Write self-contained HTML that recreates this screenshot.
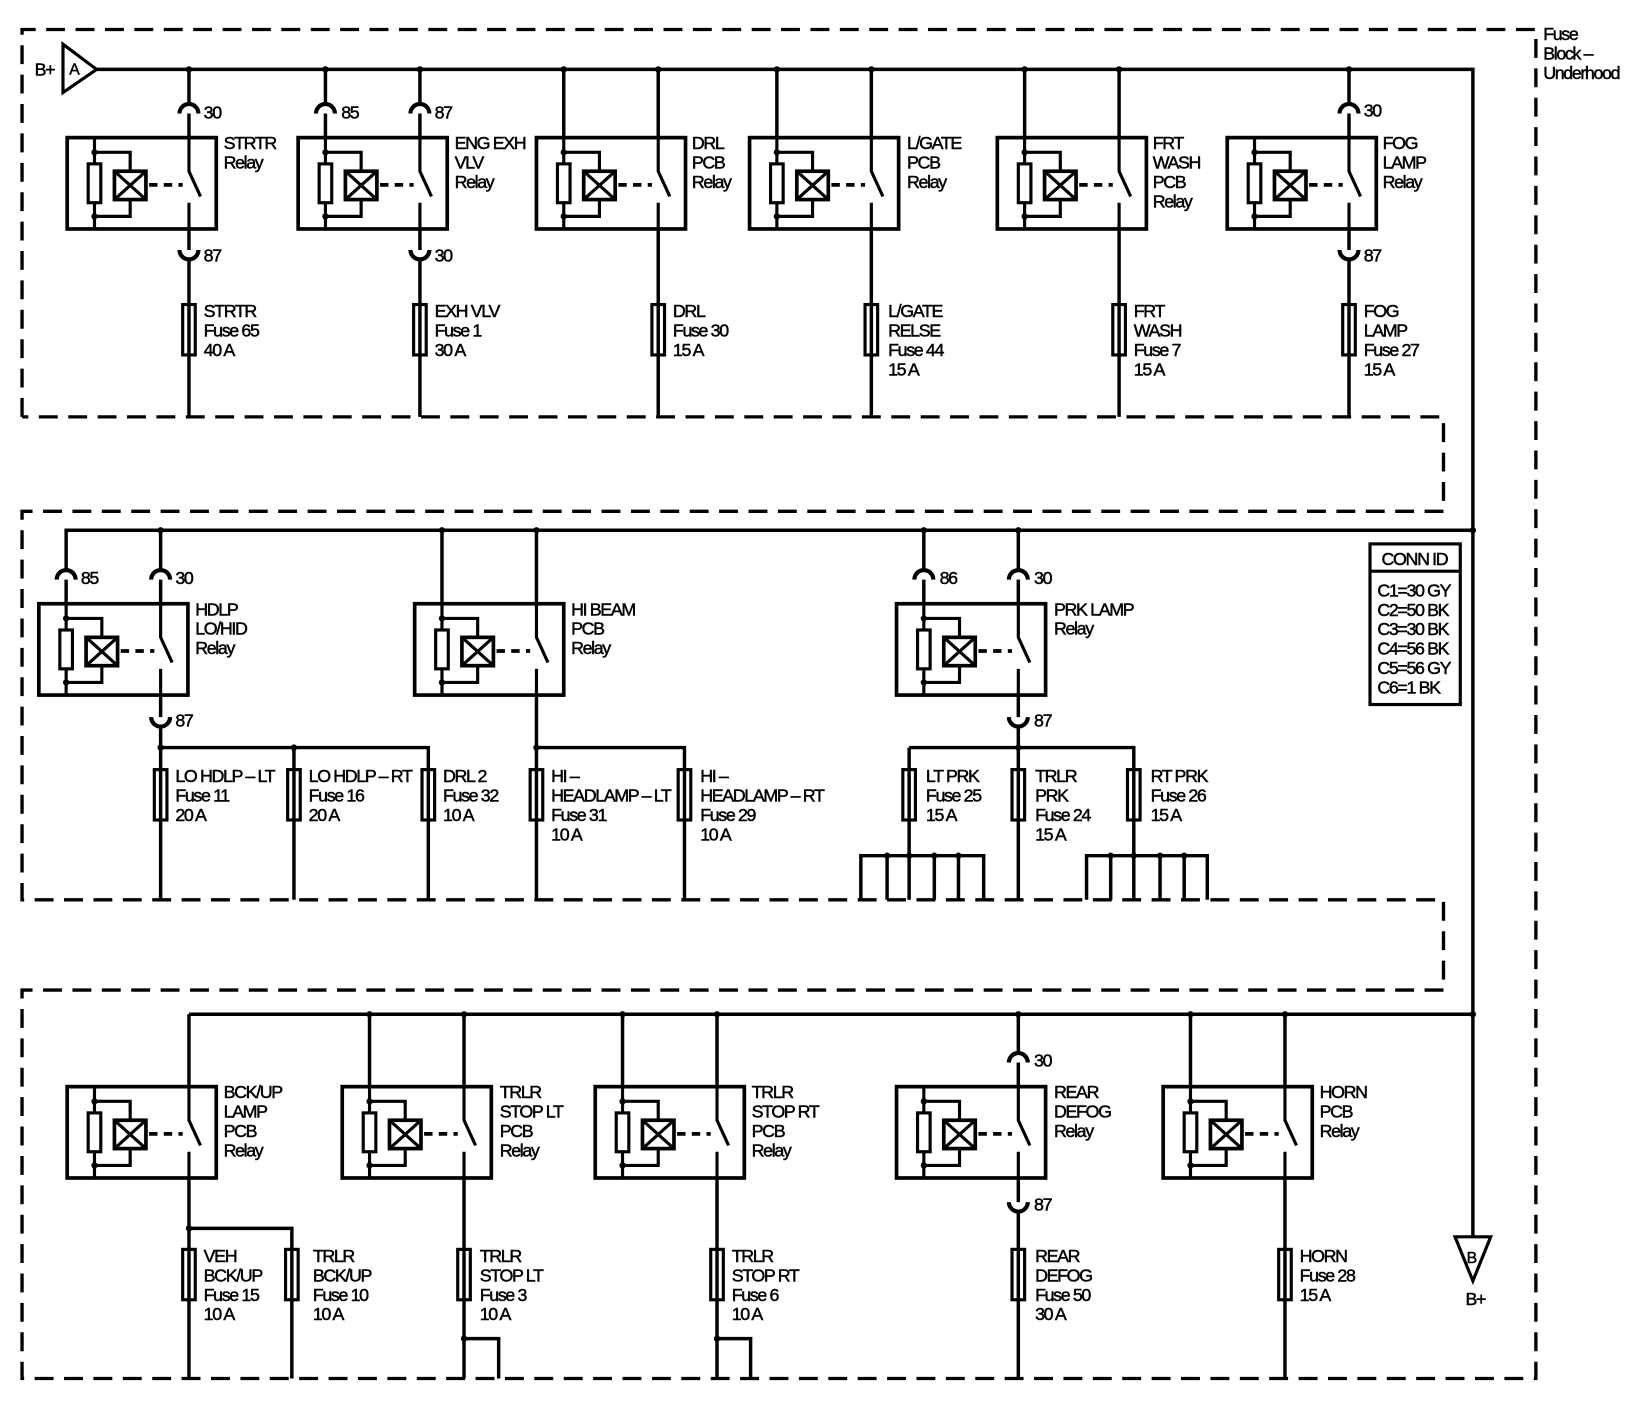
<!DOCTYPE html>
<html><head><meta charset="utf-8"><style>
html,body{margin:0;padding:0;background:#fff}
svg{display:block}
text{font-family:"Liberation Sans",sans-serif;font-size:17px;letter-spacing:-1.3px;fill:#000;stroke:#000;stroke-width:0.45px}
</style></head><body>
<svg width="1644" height="1408" viewBox="0 0 1566 1341" xmlns="http://www.w3.org/2000/svg">
<defs>
<g id="rl" fill="none" stroke="#000">
<rect x="0" y="0" width="142" height="87" stroke-width="3.5" fill="#fff"/>
<path d="M26 0V87M26 14H60V75H26" stroke-width="3"/>
<rect x="20" y="25" width="12" height="37" stroke-width="3" fill="#fff"/>
<rect x="45" y="32" width="30" height="27" stroke-width="3.5" fill="#fff"/>
<path d="M45 32L75 59M75 32L45 59" stroke-width="3"/>
<path d="M78 45H110" stroke-width="3.5" stroke-dasharray="8 6"/>
<path d="M116 0V32L127 56M116 62V87" stroke-width="3"/>
<circle cx="26" cy="14" r="3" fill="#000" stroke="none"/>
<circle cx="26" cy="75" r="3" fill="#000" stroke="none"/>
</g>
<rect id="fu" x="-6" y="0" width="12" height="48" fill="none" stroke="#000" stroke-width="3"/>
</defs>

<g fill="none" stroke="#000" stroke-width="3.2" stroke-dasharray="18 10">
<path d="M21 397V28H1463V1313H21V943H1375V857H21V487H1375V397H21"/>
</g>

<g fill="none" stroke="#000" stroke-width="3.3">
<path d="M92 66H1403V1178"/>
<path d="M180 66V99M180 108V131M180 218V238M180 247V397"/>
<path d="M310 66V99M310 108V131M400 66V99M400 108V131M400 218V238M400 247V397"/>
<path d="M537 66V131M627 66V131M627 218V397"/>
<path d="M740 66V131M830 66V131M830 218V397"/>
<path d="M976 66V131M1066 66V131M1066 218V397"/>
<path d="M1285 66V99M1285 108V131M1285 218V238M1285 247V397"/>
<path d="M1403 505H63V543M63 552V575M153 505V543M153 552V575M153 662V683M153 692V857M153 712H408V857M280 712V857"/>
<path d="M421 505V575M511 505V575M511 662V857M511 712H652V857"/>
<path d="M880 505V543M880 552V575M970 505V543M970 552V575M970 662V683M970 692V857M866 712H1080V857M866 712V857"/>
<path d="M820 857V815H937V857M845 815V857M890 815V857M913 815V857"/>
<path d="M1035 857V815H1150V857M1058 815V857M1105 815V857M1128 815V857"/>
<path d="M180 966H1403M180 966V1035M180 1122V1313M180 1170H278V1313"/>
<path d="M352 966V1035M442 966V1035M442 1122V1313M442 1275H475V1313"/>
<path d="M593 966V1035M683 966V1035M683 1122V1313M683 1275H715V1313"/>
<path d="M970 966V1003M970 1012V1035M970 1122V1145M970 1154V1313"/>
<path d="M1134 966V1035M1224 966V1035M1224 1122V1313"/>
</g>
<g fill="none" stroke="#000" stroke-width="4">
<path d="M171 108A9 9 0 0 1 189 108M171 238A9 9 0 0 0 189 238"/>
<path d="M301 108A9 9 0 0 1 319 108M391 108A9 9 0 0 1 409 108M391 238A9 9 0 0 0 409 238"/>
<path d="M1276 108A9 9 0 0 1 1294 108M1276 238A9 9 0 0 0 1294 238"/>
<path d="M54 552A9 9 0 0 1 72 552M144 552A9 9 0 0 1 162 552M144 683A9 9 0 0 0 162 683"/>
<path d="M871 552A9 9 0 0 1 889 552M961 552A9 9 0 0 1 979 552M961 683A9 9 0 0 0 979 683"/>
<path d="M961 1012A9 9 0 0 1 979 1012M961 1145A9 9 0 0 0 979 1145"/>
</g>
<use href="#rl" x="64" y="131"/><use href="#rl" x="284" y="131"/><use href="#rl" x="511" y="131"/>
<use href="#rl" x="714" y="131"/><use href="#rl" x="950" y="131"/><use href="#rl" x="1169" y="131"/>
<use href="#rl" x="37" y="575"/><use href="#rl" x="395" y="575"/><use href="#rl" x="854" y="575"/>
<use href="#rl" x="64" y="1035"/><use href="#rl" x="326" y="1035"/><use href="#rl" x="567" y="1035"/>
<use href="#rl" x="854" y="1035"/><use href="#rl" x="1108" y="1035"/>
<use href="#fu" x="180" y="290"/><use href="#fu" x="400" y="290"/><use href="#fu" x="627" y="290"/>
<use href="#fu" x="830" y="290"/><use href="#fu" x="1066" y="290"/><use href="#fu" x="1285" y="290"/>
<use href="#fu" x="153" y="733"/><use href="#fu" x="280" y="733"/><use href="#fu" x="408" y="733"/>
<use href="#fu" x="511" y="733"/><use href="#fu" x="652" y="733"/>
<use href="#fu" x="866" y="733"/><use href="#fu" x="970" y="733"/><use href="#fu" x="1080" y="733"/>
<use href="#fu" x="180" y="1190"/><use href="#fu" x="278" y="1190"/><use href="#fu" x="442" y="1190"/>
<use href="#fu" x="683" y="1190"/><use href="#fu" x="970" y="1190"/><use href="#fu" x="1224" y="1190"/>
<g fill="#000">
<circle cx="180" cy="66" r="3"/><circle cx="310" cy="66" r="3"/><circle cx="400" cy="66" r="3"/>
<circle cx="537" cy="66" r="3"/><circle cx="627" cy="66" r="3"/><circle cx="740" cy="66" r="3"/>
<circle cx="830" cy="66" r="3"/><circle cx="976" cy="66" r="3"/><circle cx="1066" cy="66" r="3"/>
<circle cx="1285" cy="66" r="3"/>
<circle cx="1403" cy="505" r="3"/><circle cx="153" cy="505" r="3"/><circle cx="421" cy="505" r="3"/>
<circle cx="511" cy="505" r="3"/><circle cx="880" cy="505" r="3"/><circle cx="970" cy="505" r="3"/>
<circle cx="153" cy="712" r="3"/><circle cx="280" cy="712" r="3"/><circle cx="511" cy="712" r="3"/><circle cx="970" cy="712" r="3"/>
<circle cx="845" cy="815" r="3"/><circle cx="866" cy="815" r="3"/><circle cx="890" cy="815" r="3"/><circle cx="913" cy="815" r="3"/>
<circle cx="1058" cy="815" r="3"/><circle cx="1080" cy="815" r="3"/><circle cx="1105" cy="815" r="3"/><circle cx="1128" cy="815" r="3"/>
<circle cx="352" cy="966" r="3"/><circle cx="442" cy="966" r="3"/><circle cx="593" cy="966" r="3"/>
<circle cx="683" cy="966" r="3"/><circle cx="970" cy="966" r="3"/><circle cx="1134" cy="966" r="3"/>
<circle cx="1224" cy="966" r="3"/><circle cx="1403" cy="966" r="3"/>
<circle cx="180" cy="1170" r="3"/><circle cx="442" cy="1275" r="3"/><circle cx="683" cy="1275" r="3"/>
</g>
<path d="M60 42V88L92 66Z" fill="#fff" stroke="#000" stroke-width="3"/>
<path d="M1386 1178H1420L1403 1220Z" fill="#fff" stroke="#000" stroke-width="3"/>
<rect x="1305" y="518" width="86" height="153" fill="none" stroke="#000" stroke-width="3"/>
<path d="M1305 544H1391" stroke="#000" stroke-width="3"/>

<text x="33" y="72">B+</text><text x="66" y="71" style="font-size:15px">A</text>
<text x="1397" y="1203" style="font-size:15px">B</text><text x="1396" y="1243">B+</text>
<text x="1470" y="38"><tspan>Fuse</tspan><tspan x="1470" dy="18.5">Block –</tspan><tspan x="1470" dy="18.5">Underhood</tspan></text>

<text x="194" y="113">30</text><text x="194" y="249">87</text>
<text x="325" y="113">85</text><text x="414" y="113">87</text><text x="414" y="249">30</text>
<text x="1299" y="111">30</text><text x="1299" y="249">87</text>
<text x="77" y="556">85</text><text x="167" y="556">30</text><text x="167" y="692">87</text>
<text x="895" y="556">86</text><text x="985" y="556">30</text><text x="985" y="692">87</text>
<text x="985" y="1016">30</text><text x="985" y="1153">87</text>

<text x="213" y="142"><tspan>STRTR</tspan><tspan x="213" dy="18.5">Relay</tspan></text>
<text x="433" y="142"><tspan>ENG EXH</tspan><tspan x="433" dy="18.5">VLV</tspan><tspan x="433" dy="18.5">Relay</tspan></text>
<text x="659" y="142"><tspan>DRL</tspan><tspan x="659" dy="18.5">PCB</tspan><tspan x="659" dy="18.5">Relay</tspan></text>
<text x="864" y="142"><tspan>L/GATE</tspan><tspan x="864" dy="18.5">PCB</tspan><tspan x="864" dy="18.5">Relay</tspan></text>
<text x="1098" y="142"><tspan>FRT</tspan><tspan x="1098" dy="18.5">WASH</tspan><tspan x="1098" dy="18.5">PCB</tspan><tspan x="1098" dy="18.5">Relay</tspan></text>
<text x="1317" y="142"><tspan>FOG</tspan><tspan x="1317" dy="18.5">LAMP</tspan><tspan x="1317" dy="18.5">Relay</tspan></text>

<text x="194" y="302"><tspan>STRTR</tspan><tspan x="194" dy="18.5">Fuse 65</tspan><tspan x="194" dy="18.5">40 A</tspan></text>
<text x="414" y="302"><tspan>EXH VLV</tspan><tspan x="414" dy="18.5">Fuse 1</tspan><tspan x="414" dy="18.5">30 A</tspan></text>
<text x="641" y="302"><tspan>DRL</tspan><tspan x="641" dy="18.5">Fuse 30</tspan><tspan x="641" dy="18.5">15 A</tspan></text>
<text x="846" y="302"><tspan>L/GATE</tspan><tspan x="846" dy="18.5">RELSE</tspan><tspan x="846" dy="18.5">Fuse 44</tspan><tspan x="846" dy="18.5">15 A</tspan></text>
<text x="1080" y="302"><tspan>FRT</tspan><tspan x="1080" dy="18.5">WASH</tspan><tspan x="1080" dy="18.5">Fuse 7</tspan><tspan x="1080" dy="18.5">15 A</tspan></text>
<text x="1299" y="302"><tspan>FOG</tspan><tspan x="1299" dy="18.5">LAMP</tspan><tspan x="1299" dy="18.5">Fuse 27</tspan><tspan x="1299" dy="18.5">15 A</tspan></text>

<text x="186" y="586"><tspan>HDLP</tspan><tspan x="186" dy="18.5">LO/HID</tspan><tspan x="186" dy="18.5">Relay</tspan></text>
<text x="544" y="586"><tspan>HI BEAM</tspan><tspan x="544" dy="18.5">PCB</tspan><tspan x="544" dy="18.5">Relay</tspan></text>
<text x="1004" y="586"><tspan>PRK LAMP</tspan><tspan x="1004" dy="18.5">Relay</tspan></text>

<text x="167" y="745"><tspan>LO HDLP – LT</tspan><tspan x="167" dy="18.5">Fuse 11</tspan><tspan x="167" dy="18.5">20 A</tspan></text>
<text x="294" y="745"><tspan>LO HDLP – RT</tspan><tspan x="294" dy="18.5">Fuse 16</tspan><tspan x="294" dy="18.5">20 A</tspan></text>
<text x="422" y="745"><tspan>DRL 2</tspan><tspan x="422" dy="18.5">Fuse 32</tspan><tspan x="422" dy="18.5">10 A</tspan></text>
<text x="525" y="745"><tspan>HI –</tspan><tspan x="525" dy="18.5">HEADLAMP – LT</tspan><tspan x="525" dy="18.5">Fuse 31</tspan><tspan x="525" dy="18.5">10 A</tspan></text>
<text x="667" y="745"><tspan>HI –</tspan><tspan x="667" dy="18.5">HEADLAMP – RT</tspan><tspan x="667" dy="18.5">Fuse 29</tspan><tspan x="667" dy="18.5">10 A</tspan></text>
<text x="882" y="745"><tspan>LT PRK</tspan><tspan x="882" dy="18.5">Fuse 25</tspan><tspan x="882" dy="18.5">15 A</tspan></text>
<text x="986" y="745"><tspan>TRLR</tspan><tspan x="986" dy="18.5">PRK</tspan><tspan x="986" dy="18.5">Fuse 24</tspan><tspan x="986" dy="18.5">15 A</tspan></text>
<text x="1096" y="745"><tspan>RT PRK</tspan><tspan x="1096" dy="18.5">Fuse 26</tspan><tspan x="1096" dy="18.5">15 A</tspan></text>

<text x="1316" y="538">CONN ID</text>
<text x="1312" y="568"><tspan>C1=30 GY</tspan><tspan x="1312" dy="18.5">C2=50 BK</tspan><tspan x="1312" dy="18.5">C3=30 BK</tspan><tspan x="1312" dy="18.5">C4=56 BK</tspan><tspan x="1312" dy="18.5">C5=56 GY</tspan><tspan x="1312" dy="18.5">C6=1 BK</tspan></text>

<text x="213" y="1046"><tspan>BCK/UP</tspan><tspan x="213" dy="18.5">LAMP</tspan><tspan x="213" dy="18.5">PCB</tspan><tspan x="213" dy="18.5">Relay</tspan></text>
<text x="476" y="1046"><tspan>TRLR</tspan><tspan x="476" dy="18.5">STOP LT</tspan><tspan x="476" dy="18.5">PCB</tspan><tspan x="476" dy="18.5">Relay</tspan></text>
<text x="716" y="1046"><tspan>TRLR</tspan><tspan x="716" dy="18.5">STOP RT</tspan><tspan x="716" dy="18.5">PCB</tspan><tspan x="716" dy="18.5">Relay</tspan></text>
<text x="1004" y="1046"><tspan>REAR</tspan><tspan x="1004" dy="18.5">DEFOG</tspan><tspan x="1004" dy="18.5">Relay</tspan></text>
<text x="1257" y="1046"><tspan>HORN</tspan><tspan x="1257" dy="18.5">PCB</tspan><tspan x="1257" dy="18.5">Relay</tspan></text>

<text x="194" y="1202"><tspan>VEH</tspan><tspan x="194" dy="18.5">BCK/UP</tspan><tspan x="194" dy="18.5">Fuse 15</tspan><tspan x="194" dy="18.5">10 A</tspan></text>
<text x="298" y="1202"><tspan>TRLR</tspan><tspan x="298" dy="18.5">BCK/UP</tspan><tspan x="298" dy="18.5">Fuse 10</tspan><tspan x="298" dy="18.5">10 A</tspan></text>
<text x="457" y="1202"><tspan>TRLR</tspan><tspan x="457" dy="18.5">STOP LT</tspan><tspan x="457" dy="18.5">Fuse 3</tspan><tspan x="457" dy="18.5">10 A</tspan></text>
<text x="697" y="1202"><tspan>TRLR</tspan><tspan x="697" dy="18.5">STOP RT</tspan><tspan x="697" dy="18.5">Fuse 6</tspan><tspan x="697" dy="18.5">10 A</tspan></text>
<text x="986" y="1202"><tspan>REAR</tspan><tspan x="986" dy="18.5">DEFOG</tspan><tspan x="986" dy="18.5">Fuse 50</tspan><tspan x="986" dy="18.5">30 A</tspan></text>
<text x="1238" y="1202"><tspan>HORN</tspan><tspan x="1238" dy="18.5">Fuse 28</tspan><tspan x="1238" dy="18.5">15 A</tspan></text>
</svg>
</body></html>
